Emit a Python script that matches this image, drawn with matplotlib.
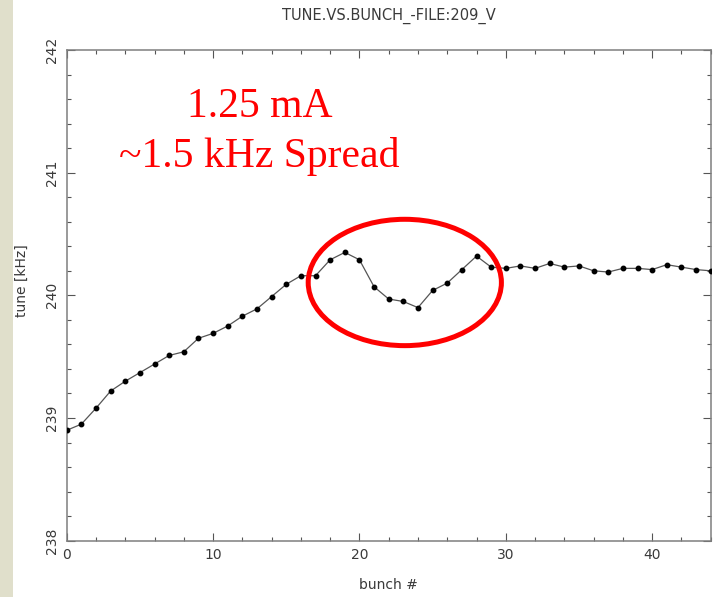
import matplotlib
matplotlib.use("Agg")
import matplotlib.pyplot as plt
from matplotlib.patches import Ellipse, Rectangle
from matplotlib.ticker import MultipleLocator

plt.rcParams["font.family"] = ["DejaVu Sans"]

bunch = list(range(45))
tune = [238.90, 238.95, 239.08, 239.22, 239.30, 239.37, 239.44, 239.51, 239.54, 239.65,
        239.69, 239.75, 239.83, 239.89, 239.99, 240.09, 240.16, 240.16, 240.29, 240.35,
        240.29, 240.07, 239.97, 239.95, 239.90, 240.04, 240.10, 240.21, 240.32, 240.23,
        240.22, 240.24, 240.22, 240.26, 240.23, 240.24, 240.20, 240.19, 240.22, 240.22,
        240.21, 240.25, 240.23, 240.21, 240.20]

title = "TUNE.VS.BUNCH_-FILE:209_V"
xlabel = "bunch #"
ylabel = "tune [kHz]"
note_line1 = "1.25 mA"
note_line2 = "~1.5 kHz Spread"
ellipse_center = (23.1, 240.105)
ellipse_size = (13.2, 1.03)

W, H = 719, 597
fig = plt.figure(figsize=(W / 100, H / 100), dpi=100)
fig.patch.set_facecolor("white")
fig.patches.append(Rectangle((0, 0), 13 / W, 1, transform=fig.transFigure,
                             facecolor="#e0dfcb", edgecolor="none", zorder=0))

ax = fig.add_axes([66.7 / W, 1 - 540.7 / H, 644 / W, 490.7 / H])
ax.plot(bunch, tune, color="#555555", lw=0.9, marker="o", ms=3.2,
        mfc="black", mec="black", zorder=3)

ax.set_xlim(0, 44)
ax.set_ylim(238, 242)
ax.xaxis.set_major_locator(MultipleLocator(10))
ax.xaxis.set_minor_locator(MultipleLocator(2))
ax.yaxis.set_major_locator(MultipleLocator(1))
ax.yaxis.set_minor_locator(MultipleLocator(0.2))

for s in ax.spines.values():
    s.set_color("#7f7f7f")
    s.set_linewidth(1.1)

ax.tick_params(which="both", direction="in", top=True, right=True,
               color="#555555", width=0.8, labelcolor="#3a3a3a", labelsize=10)
ax.tick_params(which="major", length=5.8)
ax.tick_params(which="minor", length=3)
ax.tick_params(axis="x", pad=5.5)
ax.tick_params(axis="y", pad=5.5)
for lab in ax.get_yticklabels():
    lab.set_rotation(90)
    lab.set_va("center")

ax.set_xlabel(xlabel, fontsize=10, color="#3a3a3a")
ax.xaxis.set_label_coords(0.5, -0.076)
ax.set_ylabel(ylabel, fontsize=10, color="#3a3a3a")
ax.yaxis.set_label_coords(-0.058, 0.531)
fig.text(388.7 / W, 1 - 16 / H, title, ha="center", va="center",
         fontsize=10.5, color="#3a3a3a")

ax.add_patch(Ellipse(ellipse_center, ellipse_size[0], ellipse_size[1],
                     fill=False, edgecolor="#ff0000", lw=3.6, zorder=4))

fig.text(259.5 / W, 1 - 117 / H, note_line1, ha="center", va="baseline",
         fontsize=30, color="#ff0000", family="Liberation Serif")
fig.text(259.5 / W, 1 - 167 / H, note_line2, ha="center", va="baseline",
         fontsize=30, color="#ff0000", family="Liberation Serif")

fig.savefig("out.png", dpi=100)
